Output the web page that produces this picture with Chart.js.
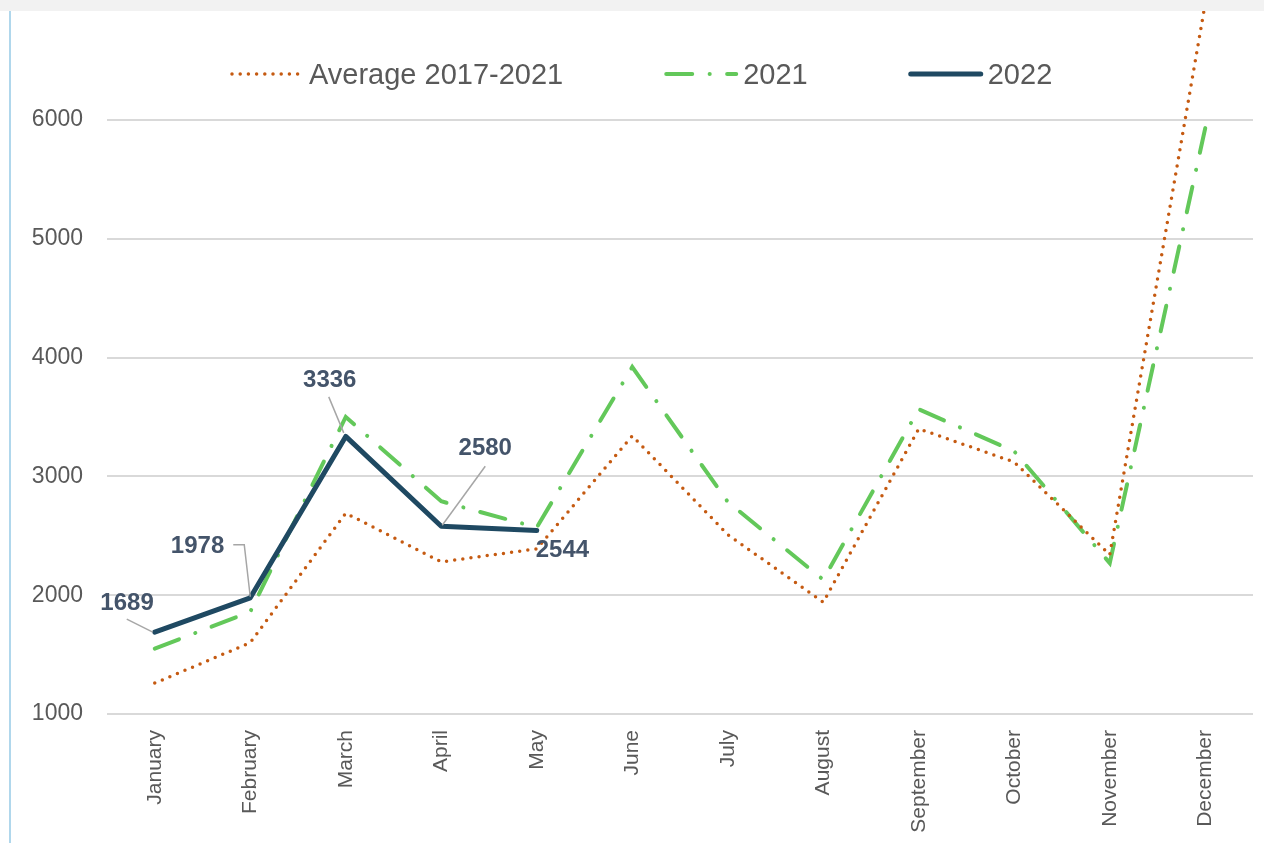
<!DOCTYPE html>
<html>
<head>
<meta charset="utf-8">
<script src="https://cdn.jsdelivr.net/npm/chart.js@4/dist/chart.umd.min.js"></script>
<style>
  html, body { margin: 0; padding: 0; background: #fff; }
  #wrap { position: relative; width: 1264px; height: 843px; overflow: hidden; }
  #topbar { position: absolute; left: 0; top: 0; width: 1264px; height: 11px; background: #f2f2f2; z-index: 2; }
  #leftbar { position: absolute; left: 9px; top: 11px; width: 2px; height: 832px; background: #b0d7ec; z-index: 2; }
  canvas { position: absolute; left: 0; top: 0; display: block; }
</style>
</head>
<body>
<div id="wrap">
  <div id="topbar"></div>
  <div id="leftbar"></div>
  <canvas id="monthlyChart" width="1264" height="843"></canvas>
</div>
<script>
// Data
var months = ["January", "February", "March", "April", "May", "June",
              "July", "August", "September", "October", "November", "December"];
var average2017_2021 = [1260, 1600, 2690, 2280, 2390, 3340, 2510, 1940, 3400, 3120, 2340, 6980];
var values2021 = [1550, 1860, 3500, 2790, 2570, 3920, 2785, 2130, 3565, 3210, 2270, 5930];
var values2022 = [1689, 1978, 3336, 2580, 2544];
var yTicks = { min: 1000, max: 7000, step: 1000 };

var FONT = '"Liberation Sans", Arial, sans-serif';

// where each 2022 value label sits, relative to its point
var labelOffsets = [
    { dx: -1, dy: -29, align: 'right', leader: [[-28, -13], [-2, 0]] },
    { dx: -26, dy: -51, align: 'right', leader: [[-17, -53], [-6, -53], [0, -1]] },
    { dx: -16, dy: -56, align: 'center', leader: [[-17, -39.5], [-2, -3.5]] },
    { dx: 44, dy: -78, align: 'center', leader: [[44, -60], [1, -1]] },
    { dx: -1, dy: 20, align: 'left', leader: null }
];

// Legend drawn inside the plot area (like the original)
var insideLegend = {
    id: 'insideLegend',
    afterDraw: function (chart) {
        var ctx = chart.ctx;
        var x = 232, y = 74, sample = 70, gap = 7, itemGap = 103;
        ctx.save();
        ctx.font = '29px ' + FONT;
        ctx.textBaseline = 'alphabetic';
        chart.data.datasets.forEach(function (ds) {
            ctx.beginPath();
            ctx.setLineDash(ds.borderDash || []);
            ctx.lineCap = ds.borderCapStyle || 'butt';
            ctx.lineWidth = ds.borderWidth;
            ctx.strokeStyle = ds.borderColor;
            ctx.moveTo(x, y);
            ctx.lineTo(x + sample, y);
            ctx.stroke();
            ctx.setLineDash([]);
            ctx.fillStyle = '#595959';
            ctx.textAlign = 'left';
            ctx.fillText(ds.label, x + sample + gap, y + 9.5);
            x += sample + gap + ctx.measureText(ds.label).width + itemGap;
        });
        ctx.restore();
    }
};

// Value labels with leader lines for 2022
var valueLabels = {
    id: 'valueLabels',
    afterDatasetsDraw: function (chart) {
        var idx = chart.data.datasets.findIndex(function (d) { return d.label === '2022'; });
        var meta = chart.getDatasetMeta(idx);
        var ctx = chart.ctx;
        ctx.save();
        meta.data.forEach(function (pt, i) {
            var o = labelOffsets[i];
            if (o.leader) {
                ctx.beginPath();
                o.leader.forEach(function (p, j) {
                    if (j === 0) ctx.moveTo(pt.x + p[0], pt.y + p[1]);
                    else ctx.lineTo(pt.x + p[0], pt.y + p[1]);
                });
                ctx.strokeStyle = '#a6a6a6';
                ctx.lineWidth = 1.5;
                ctx.stroke();
            }
            ctx.font = 'bold 24px ' + FONT;
            ctx.fillStyle = '#44546a';
            ctx.textAlign = o.align;
            ctx.textBaseline = 'middle';
            ctx.fillText(String(values2022[i]), pt.x + o.dx, pt.y + o.dy);
        });
        ctx.restore();
    }
};

var data = {
    labels: months,
    datasets: [{
        label: 'Average 2017-2021',
        data: average2017_2021,
        borderColor: '#c55a11',
        borderWidth: 3.5,
        borderDash: [0, 8.2],
        borderCapStyle: 'round',
        pointRadius: 0,
        tension: 0,
        order: 1
    }, {
        label: '2021',
        data: values2021,
        borderColor: '#63c85a',
        borderWidth: 4,
        borderDash: [26, 17.4, 0.1, 17.4],
        borderCapStyle: 'round',
        pointRadius: 0,
        tension: 0,
        order: 2
    }, {
        label: '2022',
        data: values2022,
        borderColor: '#1f4962',
        borderWidth: 5,
        borderCapStyle: 'round',
        borderJoinStyle: 'round',
        pointRadius: 0,
        tension: 0,
        order: 0
    }]
};

var options = {
    responsive: false,
    animation: false,
    layout: {
        padding: { left: 32, right: 11, top: 1, bottom: 0 }
    },
    scales: {
        x: {
            type: 'category',
            offset: true,
            grid: { display: false },
            border: { display: false },
            ticks: {
                color: '#595959',
                font: { family: FONT, size: 21 },
                minRotation: 90,
                maxRotation: 90,
                padding: 8,
                autoSkip: false
            },
            afterFit: function (s) { s.height = 129; }
        },
        y: {
            min: yTicks.min,
            max: yTicks.max,
            grid: { color: '#d9d9d9', lineWidth: 2, drawTicks: false },
            border: { display: false },
            ticks: {
                stepSize: yTicks.step,
                color: '#595959',
                font: { family: FONT, size: 23 },
                padding: 24,
                callback: function (v) { return v >= yTicks.max ? null : v; }
            },
            afterFit: function (s) {
                s.width = 75;
                s.paddingTop = 0;
            }
        }
    },
    plugins: {
        legend: { display: false },
        tooltip: { enabled: false }
    }
};

var ctx = document.getElementById('monthlyChart').getContext('2d');
var monthlyChart = new Chart(ctx, {
    type: 'line',
    data: data,
    options: options,
    plugins: [valueLabels, insideLegend]
});
</script>
</body>
</html>
